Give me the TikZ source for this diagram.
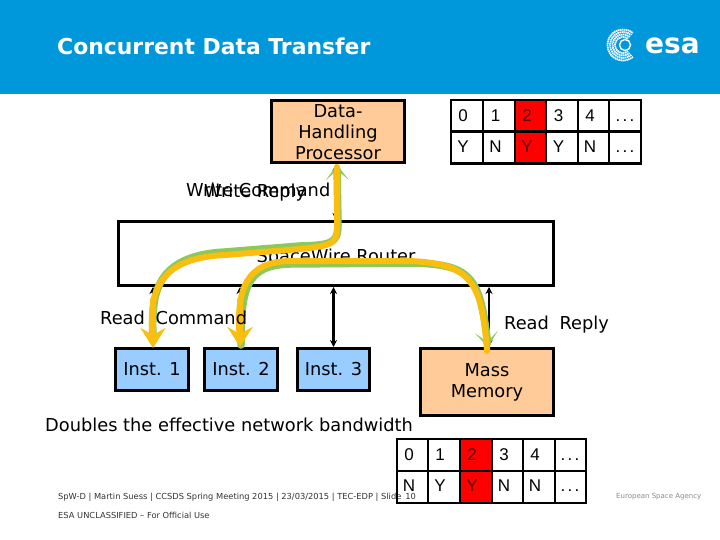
\documentclass[tikz,border=0pt]{standalone}
\usepackage{fontspec}
\setmainfont{DejaVu Sans}
\newfontfamily\cellfont{Liberation Sans}
\usetikzlibrary{arrows.meta}
\definecolor{esablue}{HTML}{0098DB}
\definecolor{boxorange}{HTML}{FFCC99}
\definecolor{boxblue}{HTML}{99CCFF}
\definecolor{flowgreen}{HTML}{8CC85A}
\definecolor{flowamber}{HTML}{FABE0F}
\definecolor{cellred}{HTML}{FF0000}
\tikzset{
  x=1pt,y=-1pt,
  box/.style={draw=black,line width=3pt,inner sep=0pt,align=center,font=\fontsize{17.8}{21}\selectfont,text=black},
  bus/.style={line width=2.2pt,black,{Stealth[length=7pt,width=7pt]}-{Stealth[length=7pt,width=7pt]}},
  lbl/.style={inner sep=0pt,font=\fontsize{17.8}{21}\selectfont,text=black},
  cell/.style={draw=black,line width=2.4pt,inner sep=0pt,anchor=center},
  celltxt/.style={inner sep=0pt,font=\cellfont\fontsize{17}{20}\selectfont,text=black},
  flowg/.style={line width=7.5pt,flowgreen,line cap=round},
  flowy/.style={line width=6pt,flowamber,line cap=round},
  greenhead/.style={-{Stealth[length=15pt,width=23pt,inset=10pt]}},
  yellowhead/.style={-{Stealth[length=20pt,width=25pt,inset=7pt]}},
  foot/.style={inner sep=0pt,anchor=west,font=\fontsize{8.3}{10}\selectfont,text=black!80},
}
\newcommand{\mybox}[7]{\node[box,fill=#2,minimum width=#5-#3-3,minimum height=#6-#4-3] (#1) at ({(#3+#5)/2},{(#4+#6)/2}) {#7};}
\newcommand{\dotstxt}{\vphantom{0}.\kern2.2pt.\kern2.2pt.}
\newcommand{\dn}[1]{\raisebox{-1.8pt}{#1}}
\begin{document}
\begin{tikzpicture}
\useasboundingbox (0,0) rectangle (720,540);
\fill[white] (0,0) rectangle (720,540);
\fill[esablue] (0,0) rectangle (720,94);
\node[inner sep=0pt,anchor=base west,text=white,font=\bfseries\fontsize{21.9}{24}\selectfont] (title) at (57,55) {Concurrent Data Transfer};
% logo
\foreach \r in {8,10.5,13,15.5}{\draw[white,line width=1.8pt,dash pattern=on 1.4pt off .6pt] (623,45) ++(50:\r) arc[start angle=50,end angle=310,radius=\r];}
\draw[white,line width=1.4pt] (625,45) circle[radius=5.5];
\node[inner sep=0pt,anchor=base west,text=white,font=\bfseries\fontsize{28}{30}\selectfont] (esa) at (645,54) {esa};
% boxes
\mybox{dhp}{boxorange}{270}{99}{406}{164}{}
\node[lbl,align=center] (dhptxt) at (338,132) {Data-\\Handling\\Processor};
\mybox{router}{white}{117}{220}{555}{287}{}
\mybox{inst1}{boxblue}{114}{347}{190}{392}{\dn{Inst. 1}}
\mybox{inst2}{boxblue}{203}{347}{279}{392}{\dn{Inst. 2}}
\mybox{inst3}{boxblue}{296}{347}{371}{392}{\dn{Inst. 3}}
\mybox{mass}{boxorange}{419}{347}{555}{417}{\dn{Mass}\\\dn{Memory}}
\node[lbl] (routertxt) at (336,258) {SpaceWire Router};
% buses
\draw[bus] (336,164) -- (336,220);
\draw[bus] (153,287) -- (153,347);
\draw[bus] (240,287) -- (240,347);
\draw[bus] (333.5,287) -- (333.5,347);
\draw[bus] (489,287) -- (489,347);
% tables
\foreach \xa/\xb/\fillc [count=\i] in {451/483/white,483/515/white,515/546/cellred,546/578/white,578/609/white,609/641/white}{
  \node[cell,fill=\fillc,minimum width=\xb-\xa,minimum height=32] (ta\i) at ({(\xa+\xb)/2},116) {};
  \node[cell,fill=\fillc,minimum width=\xb-\xa,minimum height=32] (tb\i) at ({(\xa+\xb)/2},147.5) {};
}
\foreach \tx/\a/\b/\c/\i in {463/0/Y/black/1,495.5/1/N/black/2,527/2/Y/red!35!black/3,558.5/3/Y/black/4,590/4/N/black/5,625/\dotstxt/\dotstxt/black/6}{
  \node[celltxt,text=\c] (tat\i) at (\tx,116) {\a};
  \node[celltxt,text=\c] (tbt\i) at (\tx,147) {\b};
}
% footer (under lower table)
\node[foot] (foot1) at (58,497) {SpW-D | Martin Suess | CCSDS Spring Meeting 2015 | 23/03/2015 | TEC-EDP | Slide\hspace{4pt}10};
\node[foot] (foot2) at (58,515) {ESA UNCLASSIFIED – For Official Use};
\node[inner sep=0pt,anchor=west,text=black!45,font=\fontsize{7}{8}\selectfont] (agency) at (616,497) {European Space Agency};
\foreach \xa/\xb/\fillc [count=\i] in {397/428/none,428/460/none,460/492/cellred,492/523/none,523/555/none,555/586/none}{
  \node[cell,fill=\fillc,minimum width=\xb-\xa,minimum height=32] (tc\i) at ({(\xa+\xb)/2},455) {};
  \node[cell,fill=\fillc,minimum width=\xb-\xa,minimum height=32] (td\i) at ({(\xa+\xb)/2},487) {};
}
\foreach \tx/\a/\b/\c/\i in {409/0/N/black/1,440/1/Y/black/2,472/2/Y/red!35!black/3,504/3/N/black/4,535/4/N/black/5,570/\dotstxt/\dotstxt/black/6}{
  \node[celltxt,text=\c] (tct\i) at (\tx,455) {\a};
  \node[celltxt,text=\c] (tdt\i) at (\tx,486) {\b};
}
% flows
\draw[flowg,greenhead] (153,340) .. controls (152,300) and (150,256) .. (225,252) -- (300,246) .. controls (330,245) and (338,244) .. (338,225) -- (337,165);
\draw[flowg,greenhead] (241,345) .. controls (241,290) and (245,265) .. (290,264) -- (410,263) .. controls (470,264) and (480,275) .. (488,347);
\draw[flowy] (337,167) -- (337,228) .. controls (337,244) and (330,246) .. (300,249) -- (225,255) .. controls (160,258) and (150,290) .. (152,330);
\draw[flowy,yellowhead] (153,300) -- (153,348);
\draw[flowy] (487,351) .. controls (482,280) and (470,264) .. (410,261) -- (290,261) .. controls (245,262) and (238,290) .. (239,330);
\draw[flowy,yellowhead] (240,300) -- (240,347);
% labels
\node[lbl,anchor=west] (wc) at (186,190) {Write Command};
\node[lbl,anchor=west] (wr) at (204,193) {Write Reply};
\node[lbl,anchor=west] (rc) at (100,318) {Read\hspace{5pt} Command};
\node[lbl,anchor=west] (rr) at (504,325) {Read\hspace{5pt} Reply};
\node[lbl,anchor=west] (dbl) at (45,425) {Doubles the effective network bandwidth};
\end{tikzpicture}
\end{document}
